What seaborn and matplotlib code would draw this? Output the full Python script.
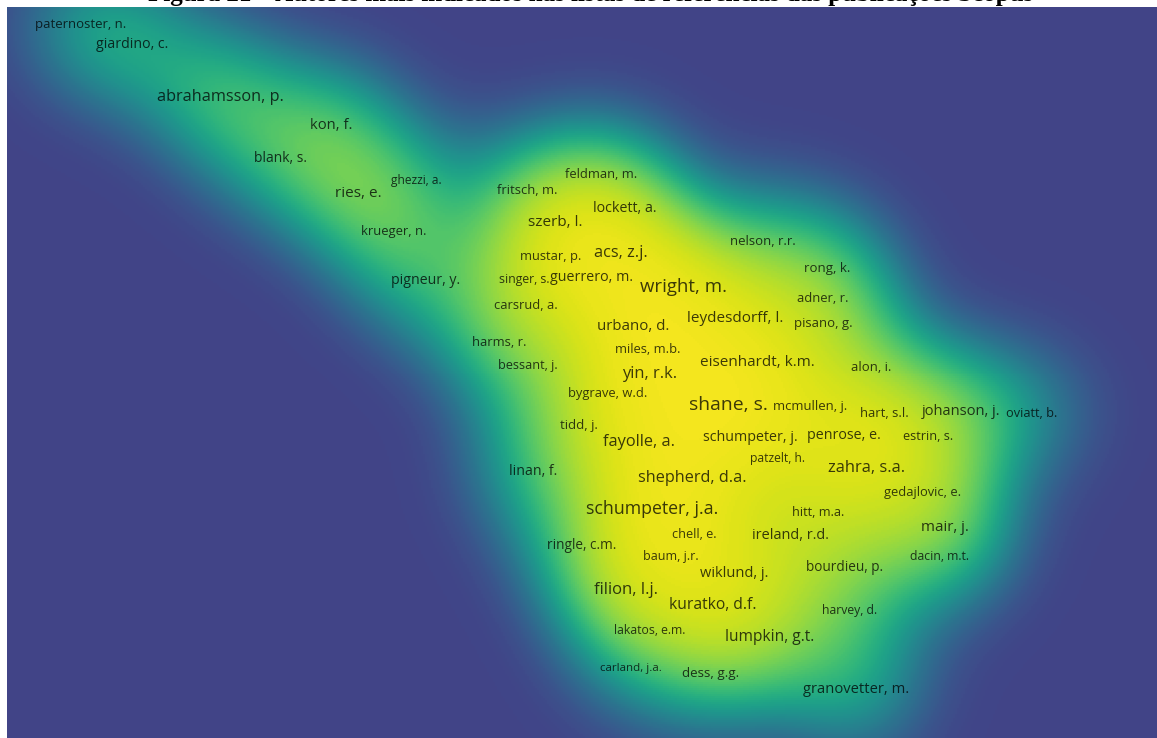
import numpy as np
import pandas as pd
import seaborn as sns
import matplotlib.pyplot as plt
from matplotlib.colors import ListedColormap

# Co-citation map: cited authors, their map coordinates and weights
authors = [
    "paternoster, n.", "giardino, c.", "abrahamsson, p.", "kon, f.", "blank, s.",
    "ghezzi, a.", "ries, e.", "fritsch, m.", "feldman, m.", "lockett, a.",
    "szerb, l.", "krueger, n.", "nelson, r.r.", "mustar, p.", "acs, z.j.",
    "rong, k.", "pigneur, y.", "singer, s.", "guerrero, m.", "wright, m.",
    "adner, r.", "carsrud, a.", "leydesdorff, l.", "pisano, g.", "urbano, d.",
    "harms, r.", "miles, m.b.", "bessant, j.", "eisenhardt, k.m.", "yin, r.k.",
    "alon, i.", "bygrave, w.d.", "shane, s.", "mcmullen, j.", "hart, s.l.",
    "johanson, j.", "oviatt, b.", "tidd, j.", "fayolle, a.", "schumpeter, j.",
    "penrose, e.", "estrin, s.", "patzelt, h.", "zahra, s.a.", "linan, f.",
    "shepherd, d.a.", "gedajlovic, e.", "schumpeter, j.a.", "hitt, m.a.", "mair, j.",
    "chell, e.", "ireland, r.d.", "ringle, c.m.", "baum, j.r.", "dacin, m.t.",
    "bourdieu, p.", "wiklund, j.", "filion, l.j.", "kuratko, d.f.", "harvey, d.",
    "lakatos, e.m.", "lumpkin, g.t.", "carland, j.a.", "dess, g.g.", "granovetter, m.",
]
map_x = [
    81, 132, 220, 331, 280,
    416, 358, 527, 601, 625,
    555, 394, 763, 551, 621,
    827, 426, 524, 592, 684,
    823, 526, 735, 823, 633,
    499, 648, 528, 757, 650,
    871, 608, 728, 810, 884,
    961, 1032, 579, 639, 750,
    844, 928, 778, 867, 533,
    692, 923, 652, 818, 945,
    694, 790, 582, 671, 940,
    845, 734, 626, 713, 850,
    650, 770, 631, 711, 856,
]
map_y = [
    23, 43, 95, 124, 157,
    179, 192, 189, 173, 207,
    221, 230, 240, 255, 251,
    267, 279, 278, 276, 285,
    297, 304, 317, 322, 325,
    341, 348, 364, 361, 372,
    366, 393, 404, 406, 413,
    410, 413, 425, 441, 436,
    434, 436, 458, 467, 470,
    477, 492, 508, 512, 526,
    534, 534, 544, 556, 556,
    566, 572, 589, 604, 610,
    630, 636, 668, 673, 688,
]
weight = [
    31, 41, 63, 47, 39,
    20, 52, 30, 29, 42,
    52, 30, 31, 29, 62,
    33, 41, 22, 43, 87,
    30, 29, 53, 31, 50,
    30, 29, 26, 52, 65,
    31, 29, 94, 31, 30,
    46, 27, 33, 64, 43,
    43, 28, 21, 65, 41,
    62, 29, 77, 27, 51,
    26, 45, 36, 25, 22,
    36, 46, 66, 56, 22,
    23, 55, 15, 34, 47,
]

title = "Figura 21 – Autores mais indicados nas listas de referências das publicações Scopus"

items = pd.DataFrame({"author": authors, "x": map_x, "y": map_y, "weight": weight})
items["label_px"] = 10 + items["weight"] / 10

# Kernel density over the map area (2-unit cells)
x0, x1, y0, y1, step = 7, 1157, 7, 738, 2
gx = np.arange(x0, x1, step) + step / 2
gy = np.arange(y0, y1, step) + step / 2
GX, GY = np.meshgrid(gx, gy)
sigma = 55.0
dens = np.zeros_like(GX)
for _, r in items.iterrows():
    dens += r["weight"] * np.exp(-((GX - r["x"]) ** 2 + (GY - r["y"]) ** 2) / (2 * sigma ** 2))
level = (1 - np.exp(-dens / 70.0)) ** 1.6

grid = pd.DataFrame(level, index=np.round(gy, 1), columns=np.round(gx, 1))

cmap = ListedColormap(plt.get_cmap("viridis")(np.linspace(0.2, 1.0, 256)))

fig = plt.figure(figsize=(11.57, 7.38), dpi=100)
fig.patch.set_facecolor("white")
ax = fig.add_axes([x0 / 1157, 0, (x1 - x0) / 1157, (y1 - y0) / 738])
sns.heatmap(grid, cmap=cmap, vmin=0, vmax=1, cbar=False,
            xticklabels=False, yticklabels=False, ax=ax)
ax.set_xlabel("")
ax.set_ylabel("")
for s in ax.spines.values():
    s.set_visible(False)

for _, r in items.iterrows():
    ax.text((r["x"] - x0) / step, (r["y"] - y0) / step, r["author"],
            fontsize=r["label_px"] * 0.72, family="Open Sans",
            ha="center", va="center_baseline", color=(0, 0, 0, 0.75))

fig.text(0.5108, 1 - 1.5 / 738, title, ha="center", va="baseline",
         family="Liberation Serif", fontweight="bold", fontsize=18, color="black")

fig.savefig("out.png", dpi=100, facecolor="white")
